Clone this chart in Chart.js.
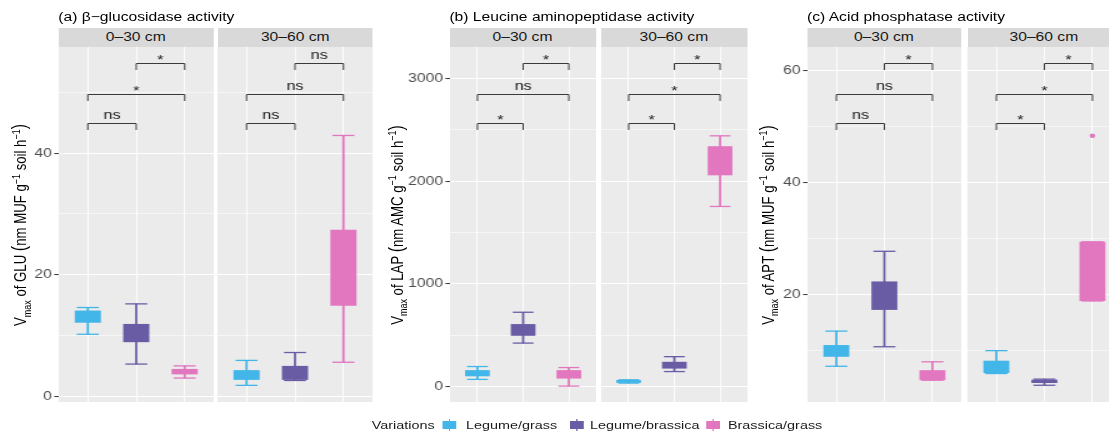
<!DOCTYPE html>
<html lang="en">
<head>
<meta charset="UTF-8">
<title>Soil enzyme activity</title>
<script src="https://cdn.jsdelivr.net/npm/chart.js"></script>
<style>
  html, body { margin: 0; padding: 0; background: #fff; overflow: hidden; }
  body { font-family: "Liberation Sans", Arial, sans-serif; }
  /* the figure is drawn narrow and stretched sideways, like the source image */
  #page { position: absolute; left: 0; top: 0; width: 888px; height: 434px;
          transform: scaleX(1.25); transform-origin: 0 0; }
  .title { position: absolute; top: 9.5px; font-size: 12.5px; line-height: 15px; color: #000; white-space: nowrap; }
  .strip { position: absolute; top: 27.5px; height: 19.5px; line-height: 19.5px; background: #d9d9d9;
           color: #1a1a1a; font-size: 12.5px; text-align: center; white-space: nowrap; }
  .ytitle { position: absolute; top: 225px; font-size: 13.2px; color: #000; white-space: nowrap;
            transform: translate(-50%, -50%) rotate(-90deg); }
  .ytitle sub, .ytitle sup { font-size: 9px; line-height: 0; }
  .ytitle .par { font-size: 16px; }
  canvas { position: absolute; top: 40px; }
  .lg { position: absolute; top: 418px; font-size: 11.5px; line-height: 14px; color: #1a1a1a; white-space: nowrap; }
  .key { position: absolute; top: 421px; width: 11px; height: 8px; }
  .key::before, .key::after { content: ""; position: absolute; left: 5px; width: 1px; height: 2px; background: inherit; }
  .key::before { top: -2px; }
  .key::after { bottom: -2px; }
</style>
</head>
<body>
<div id="page"></div>
<script>
const categories = ['Legume/grass', 'Legume/brassica', 'Brassica/grass'];
const depths = ['0–30 cm', '30–60 cm'];
const pairs = [[0, 1], [0, 2], [1, 2]];

// (a) beta-glucosidase, one row per depth, one value per category
const gluLow  = [[10.2, 5.3, 3.0], [1.8, 2.6, 5.6]];
const gluQ1   = [[12.1, 8.9, 3.6], [2.7, 2.7, 14.9]];
const gluQ3   = [[14.1, 11.9, 4.5], [4.3, 5.0, 27.4]];
const gluHigh = [[14.6, 15.2, 5.0], [5.9, 7.2, 42.9]];
const gluOut  = [[], []];
const gluSig  = [['ns', '*', '*'], ['ns', 'ns', 'ns']];
const gluSigY = [44.9, 49.8, 54.8];
const gluTicks = [0, 20, 40];
const gluMinor = [10, 30, 50];

// (b) leucine aminopeptidase
const lapLow  = [[72, 425, 7], [36, 148, 1754]];
const lapQ1   = [[102, 496, 80], [38, 177, 2057]];
const lapQ3   = [[162, 610, 162], [66, 243, 2340]];
const lapHigh = [[197, 725, 187], [68, 293, 2441]];
const lapOut  = [[], []];
const lapSig  = [['*', 'ns', '*'], ['*', '*', '*']];
const lapSigY = [2562, 2850, 3146];
const lapTicks = [0, 1000, 2000, 3000];
const lapMinor = [500, 1500, 2500];

// (c) acid phosphatase
const aptLow  = [[7.1, 10.6, 4.6], [5.8, 3.7, 18.8]];
const aptQ1   = [[8.8, 17.2, 4.6], [5.9, 4.1, 18.8]];
const aptQ3   = [[10.9, 22.3, 6.4], [8.1, 4.7, 29.4]];
const aptHigh = [[13.4, 27.7, 7.9], [9.9, 4.8, 29.4]];
const aptOut  = [[], [[2, 48.4]]];   // [category index, value]
const aptSig  = [['ns', 'ns', '*'], ['*', '*', '*']];
const aptSigY = [50.6, 55.9, 61.4];
const aptTicks = [20, 40, 60];
const aptMinor = [10, 30, 50];

const colors = ['#42b6e8', '#6a5ca4', '#e276bf'];

const panels = [
  { title: '(a) β−glucosidase activity',
    yTitle: 'V<sub>max</sub> of GLU <span class="par">(</span>nm MUF g<sup>−1</sup> soil h<sup>−1</sup><span class="par">)</span>',
    low: gluLow, q1: gluQ1, q3: gluQ3, high: gluHigh, out: gluOut, sig: gluSig, sigY: gluSigY,
    ticks: gluTicks, minor: gluMinor, min: -0.94, max: 57.45,
    left: [46.6, 174.2], width: 124, axisW: 40, yTitleX: 16.3, capR: 8.8 },
  { title: '(b) Leucine aminopeptidase activity',
    yTitle: 'V<sub>max</sub> of LAP <span class="par">(</span>nm AMC g<sup>−1</sup> soil h<sup>−1</sup><span class="par">)</span>',
    low: lapLow, q1: lapQ1, q3: lapQ3, high: lapHigh, out: lapOut, sig: lapSig, sigY: lapSigY,
    ticks: lapTicks, minor: lapMinor, min: -148, max: 3305,
    left: [359.5, 480.6], width: 117, axisW: 40, yTitleX: 316.8, capR: 8.3 },
  { title: '(c) Acid phosphatase activity',
    yTitle: 'V<sub>max</sub> of APT <span class="par">(</span>nm MUF g<sup>−1</sup> soil h<sup>−1</sup><span class="par">)</span>',
    low: aptLow, q1: aptQ1, q3: aptQ3, high: aptHigh, out: aptOut, sig: aptSig, sigY: aptSigY,
    ticks: aptTicks, minor: aptMinor, min: 0.7, max: 64.3,
    left: [645.6, 773.6], width: 123, axisW: 40, yTitleX: 613.8, capR: 8.8 }
];

Chart.defaults.font.family = '"Liberation Sans", Arial, sans-serif';
Chart.defaults.font.size = 12.5;
Chart.defaults.color = '#4d4d4d';

const page = document.getElementById('page');

function addDiv(cls, html, style) {
  const el = document.createElement('div');
  el.className = cls;
  el.innerHTML = html;
  Object.assign(el.style, style);
  page.appendChild(el);
  return el;
}

// grey panel background
const panelBg = {
  id: 'panelBg',
  beforeDraw(chart) {
    const { ctx, chartArea: a } = chart;
    ctx.save();
    ctx.fillStyle = '#ebebeb';
    ctx.fillRect(a.left, a.top, a.right - a.left, a.bottom - a.top);
    ctx.restore();
  }
};

// significance brackets
function bracketPlugin(levels, labels) {
  return {
    id: 'brackets',
    afterDatasetsDraw(chart) {
      const { ctx, scales: { x, y } } = chart;
      ctx.save();
      ctx.strokeStyle = '#3a3a3a';
      ctx.lineWidth = 1;
      ctx.fillStyle = '#1a1a1a';
      ctx.textAlign = 'center';
      ctx.font = '13px "Liberation Sans", Arial, sans-serif';
      levels.forEach((lv, k) => {
        const [a, b] = pairs[k];
        const x1 = x.getPixelForValue(a + 1), x2 = x.getPixelForValue(b + 1);
        const yy = Math.round(y.getPixelForValue(lv)) + 0.5;
        ctx.beginPath();
        ctx.moveTo(x1, yy + 6.5);
        ctx.lineTo(x1, yy);
        ctx.lineTo(x2, yy);
        ctx.lineTo(x2, yy + 6.5);
        ctx.stroke();
        const lab = labels[k];
        ctx.fillText(lab, (x1 + x2) / 2, lab === '*' ? yy + 0.5 : yy - 4.2);
      });
      ctx.restore();
    }
  };
}

function facetChart(p, d) {
  const withAxis = d === 0;
  const axisW = withAxis ? p.axisW : 0;
  const cv = document.createElement('canvas');
  cv.width = p.width + axisW;
  cv.height = 370;
  cv.style.left = (p.left[d] - axisW) + 'px';
  page.appendChild(cv);

  const xs = categories.map((c, i) => i + 1);
  const boxes = xs.map((x, i) => ({ x, y: [p.q1[d][i], p.q3[d][i]] }));
  const whiskers = xs.map((x, i) => ({ x, y: [p.low[d][i], p.high[d][i]] }));
  const caps = xs.flatMap((x, i) => [{ x, y: p.low[d][i] }, { x, y: p.high[d][i] }]);
  const outs = p.out[d].map(([i, v]) => ({ x: i + 1, y: v }));
  const allTicks = [...p.ticks, ...p.minor].sort((a, b) => a - b);
  const isMajor = v => p.ticks.includes(v);

  new Chart(cv, {
    type: 'bar',
    data: {
      datasets: [
        { type: 'bar', data: boxes, backgroundColor: colors, borderWidth: 0,
          grouped: false, categoryPercentage: 1, barPercentage: 0.54, order: 0 },
        { type: 'bar', data: whiskers, backgroundColor: colors, borderWidth: 0,
          grouped: false, barThickness: 1.1, order: 2 },
        { type: 'scatter', data: caps, pointStyle: 'line', pointRadius: p.capR,
          pointBorderWidth: 1.3, pointBorderColor: colors.flatMap(c => [c, c]), order: 1 },
        { type: 'scatter', data: outs, pointRadius: 2.2, pointBorderWidth: 0,
          pointBackgroundColor: p.out[d].map(([i]) => colors[i]), order: 1 }
      ]
    },
    options: {
      responsive: false,
      animation: false,
      events: [],
      layout: { autoPadding: false, padding: { top: 7, bottom: 8, left: 0, right: 0 } },
      plugins: { legend: { display: false }, tooltip: { enabled: false } },
      scales: {
        x: {
          type: 'linear', min: 0.4, max: 3.6, offset: false,
          afterBuildTicks: s => { s.ticks = xs.map(v => ({ value: v })); },
          ticks: { display: false },
          grid: { color: '#ffffff', lineWidth: 0.9, drawTicks: false, offset: false },
          border: { display: false }
        },
        y: {
          type: 'linear', min: p.min, max: p.max, beginAtZero: false,
          afterBuildTicks: s => { s.ticks = allTicks.map(v => ({ value: v })); },
          afterFit: s => { s.width = axisW; s.paddingTop = 0; s.paddingBottom = 0; },
          ticks: { display: withAxis, padding: 2, color: '#4d4d4d',
                   callback: v => isMajor(v) ? String(v) : '' },
          grid: {
            color: '#ffffff',
            lineWidth: c => isMajor(c.tick.value) ? 1.1 : 0.55,
            drawTicks: withAxis, tickLength: 3.6, tickWidth: 1,
            tickColor: c => isMajor(c.tick.value) ? '#333333' : 'rgba(0,0,0,0)'
          },
          border: { display: false }
        }
      }
    },
    plugins: [panelBg, bracketPlugin(p.sigY, p.sig[d])]
  });
}

panels.forEach(p => {
  addDiv('title', p.title, { left: p.left[0] + 'px' });
  addDiv('ytitle', p.yTitle, { left: p.yTitleX + 'px' });
  depths.forEach((dep, d) => {
    addDiv('strip', dep, { left: p.left[d] + 'px', width: p.width + 'px' });
    facetChart(p, d);
  });
});

// legend
const keyLeft = [354.2, 456, 565.4];
const labelLeft = [372.8, 472, 582.4];
addDiv('lg', 'Variations', { left: '297.4px' });
categories.forEach((c, i) => {
  addDiv('key', '', { left: keyLeft[i] + 'px', background: colors[i] });
  addDiv('lg', c, { left: labelLeft[i] + 'px' });
});
</script>
</body>
</html>
